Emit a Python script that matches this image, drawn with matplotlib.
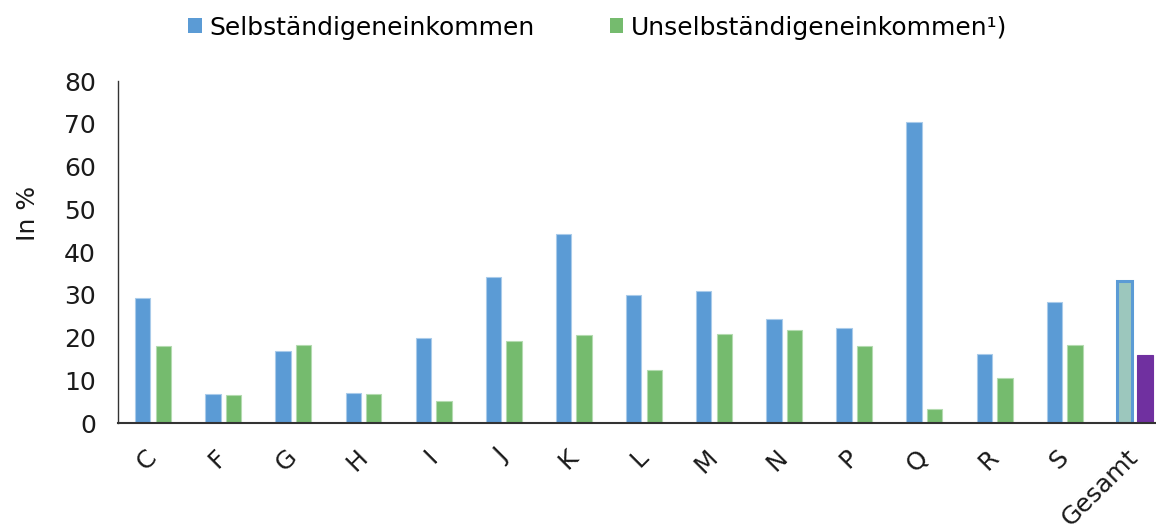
import matplotlib.pyplot as plt
import numpy as np
from matplotlib.patches import Patch

# Anteil je Branche, in %
branchen = ['C', 'F', 'G', 'H', 'I', 'J', 'K', 'L', 'M', 'N', 'P', 'Q', 'R', 'S', 'Gesamt']
selbst = [29.2, 6.7, 16.8, 7.0, 19.9, 34.2, 44.1, 29.9, 30.9, 24.3, 22.2, 70.3, 16.1, 28.2, 33.3]
unselbst = [17.9, 6.5, 18.2, 6.7, 5.1, 19.2, 20.5, 12.4, 20.8, 21.8, 17.9, 3.2, 10.5, 18.2, 15.9]

plt.rcParams['font.family'] = ['DejaVu Sans']

blue = '#5B9BD5'
green = '#75BB6E'

fig = plt.figure(figsize=(11.56, 5.24), dpi=100)
ax = fig.add_axes([0.1021, 0.1927, 0.9099, 0.6527])

x = np.arange(len(branchen))
w = 0.218
off = 0.147

# letzte Gruppe (Gesamt) hat eigene Farben
fc1 = [blue] * (len(x) - 1) + ['#9CC7BD']
ec1 = ['#A9CBEA'] * (len(x) - 1) + [blue]
lw1 = [0.8] * (len(x) - 1) + [2.2]
fc2 = [green] * (len(x) - 1) + ['#7030A0']
ec2 = ['#B4DBB0'] * (len(x) - 1) + ['#7030A0']

ax.bar(x - off, selbst, w, color=fc1, edgecolor=ec1, linewidth=lw1)
ax.bar(x + off, unselbst, w, color=fc2, edgecolor=ec2, linewidth=0.8)

ax.set_xlim(-0.5, len(x) - 0.5)
ax.set_ylim(0, 80)
ax.set_yticks(range(0, 81, 10))
ax.tick_params(axis='y', length=0, pad=16, labelsize=18, labelcolor='#1a1a1a')
ax.tick_params(axis='x', length=0, pad=22)
ax.set_xticks(x)
ax.set_xticklabels(branchen, rotation=45, ha='right', va='center', rotation_mode='anchor',
                   fontsize=18, color='#1a1a1a')

for s in ['top', 'right']:
    ax.spines[s].set_visible(False)
ax.spines['left'].set_color('#333333')
ax.spines['bottom'].set_color('#333333')
ax.spines['left'].set_linewidth(1)
ax.spines['bottom'].set_linewidth(1.5)

fig.text(0.024, 0.593, 'In %', rotation=90, ha='center', va='center', fontsize=18, color='#1a1a1a')

handles = [Patch(facecolor=blue, edgecolor='none'), Patch(facecolor=green, edgecolor='none')]
fig.legend(handles, ['Selbständigeneinkommen', 'Unselbständigeneinkommen¹)'],
           loc='center', bbox_to_anchor=(0.517, 0.947), ncol=2, frameon=False,
           fontsize=18, handlelength=0.55, handleheight=0.55, handletextpad=0.3,
           columnspacing=3.0)

fig.savefig('out.png', dpi=100)
